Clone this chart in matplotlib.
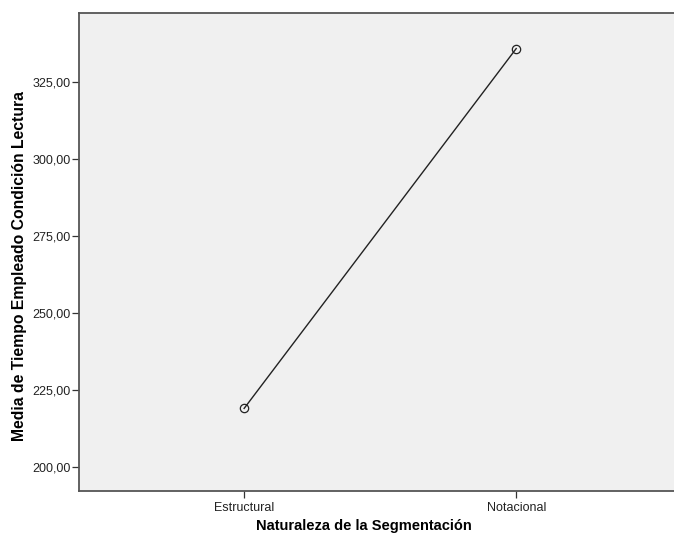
import matplotlib
matplotlib.use('Agg')
import matplotlib.pyplot as plt
from matplotlib.ticker import FuncFormatter

# datos
categorias = ['Estructural', 'Notacional']
medias = [219.0, 335.8]
yticks = [200, 225, 250, 275, 300, 325]

plt.rcParams['font.family'] = ['Liberation Sans', 'DejaVu Sans']

fig = plt.figure(figsize=(6.74, 5.43), dpi=100)
ax = fig.add_axes([0.1172, 0.0958, 0.8828, 0.880])
ax.set_facecolor('#f0f0f0')

x = list(range(len(categorias)))
ax.plot(x, medias, color='#222222', linewidth=1.0, marker='o', markersize=6,
        markerfacecolor='none', markeredgecolor='#222222', markeredgewidth=0.9)

ax.set_xlim(-0.607, 1.58)
ax.set_ylim(192.2, 347.3)
ax.set_xticks(x)
ax.set_xticklabels(categorias)
ax.set_yticks(yticks)
ax.yaxis.set_major_formatter(FuncFormatter(lambda v, p: f'{v:.2f}'.replace('.', ',')))

ax.tick_params(axis='both', direction='out', length=5, width=0.9, color='#333333',
               labelsize=9, labelcolor='#222222')
ax.tick_params(axis='x', pad=3)
ax.tick_params(axis='y', pad=1)

for s in ['left', 'bottom', 'top']:
    ax.spines[s].set_color('#555555')
    ax.spines[s].set_linewidth(1.3)
ax.spines['right'].set_visible(False)

ax.set_xlabel('Naturaleza de la Segmentación', fontsize=10.5, fontweight='bold', va='center')
ax.xaxis.set_label_coords(0.478, -0.074)
ax.set_ylabel('Media de Tiempo Empleado Condición Lectura', fontsize=11.3, fontweight='bold', va='center')
ax.yaxis.set_label_coords(-0.100, 0.47)

plt.savefig('out.png', dpi=100)
